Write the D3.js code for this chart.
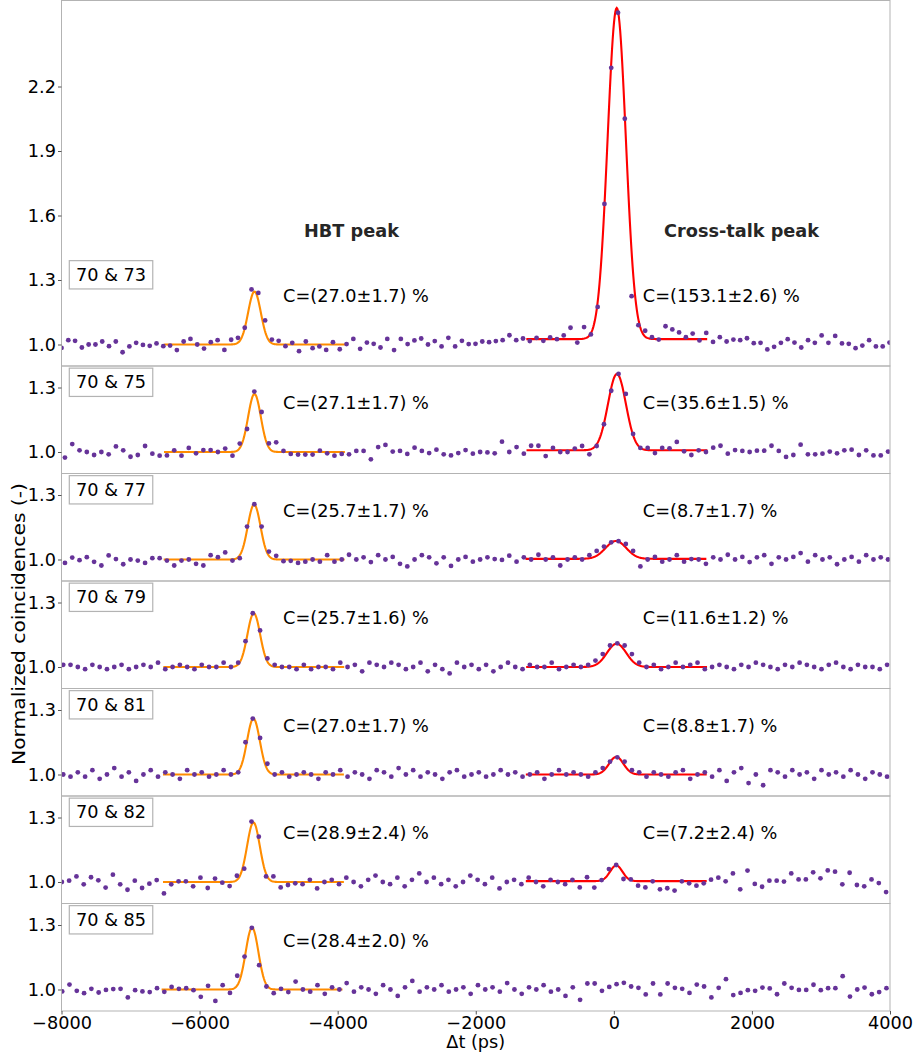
<!DOCTYPE html>
<html>
<head>
<meta charset="utf-8">
<script src="https://d3js.org/d3.v7.min.js"></script>
<style>
  body { margin: 0; background: #fff; }
  svg { display: block; font-family: "DejaVu Sans", sans-serif; }
</style>
</head>
<body>
<svg id="chart" width="916" height="1055"></svg>
<script>
// ---- data ----
const pairLabels = ["70 & 73", "70 & 75", "70 & 77", "70 & 79", "70 & 81", "70 & 82", "70 & 85"];
const hbtText = ["C=(27.0±1.7) %", "C=(27.1±1.7) %", "C=(25.7±1.7) %", "C=(25.7±1.6) %", "C=(27.0±1.7) %", "C=(28.9±2.4) %", "C=(28.4±2.0) %"];
const ctText = ["C=(153.1±2.6) %", "C=(35.6±1.5) %", "C=(8.7±1.7) %", "C=(11.6±1.2) %", "C=(8.8±1.7) %", "C=(7.2±2.4) %", null];

// first bin and bin width (ps) of each histogram
const binStart = [-8000, -7950, -7950, -7975, -7975, -7995, -7990];
const binWidth = [98.3, 105.5, 105.5, 105.6, 105.6, 105.65, 105.65];

const coinc73 = [0.984,1.020,1.017,0.986,1.000,1.000,1.014,0.992,1.014,0.964,0.991,1.008,0.998,0.994,1.005,0.992,0.995,0.974,1.014,1.026,
  1.000,0.981,1.011,1.020,0.975,1.022,1.031,1.078,1.256,1.240,1.112,1.023,1.017,0.992,1.008,0.969,1.014,0.983,0.991,0.975,
  1.011,0.978,1.002,1.026,0.980,1.009,1.003,0.986,1.026,0.974,1.026,1.002,1.019,1.028,1.000,1.016,0.991,1.031,0.991,1.017,
  1.002,1.003,1.014,1.011,1.016,1.020,1.043,1.020,1.028,1.016,1.031,1.017,1.033,1.025,1.042,1.078,1.009,1.081,1.047,1.175,
  1.654,2.287,2.543,2.050,1.225,1.090,1.064,1.034,1.023,1.085,1.070,1.056,1.034,1.051,1.019,1.054,1.012,1.034,1.014,1.023,
  1.020,1.029,1.006,1.008,0.977,0.989,1.008,1.025,1.009,0.986,1.020,1.008,1.042,1.008,1.040,1.005,1.003,0.983,0.995,1.020,
  0.991,0.991,1.009];
const coinc75 = [0.974,1.037,1.008,1.000,0.986,1.000,0.989,1.026,1.008,0.978,0.986,1.028,0.992,0.983,0.984,1.008,0.983,1.019,0.994,1.009,
  1.009,1.000,1.016,0.983,1.039,1.107,1.281,1.186,1.040,1.045,1.005,0.991,0.988,0.988,0.988,1.006,0.994,0.983,0.991,0.989,
  1.005,1.005,0.966,1.023,1.033,1.002,1.005,0.991,1.020,1.005,0.995,1.011,0.989,0.984,0.995,1.009,0.992,1.000,0.998,0.994,
  1.048,1.000,1.023,0.992,1.029,1.029,0.981,1.019,1.000,1.000,1.016,1.028,0.989,1.028,1.129,1.285,1.363,1.270,1.084,1.019,
  1.019,0.995,1.019,1.017,1.047,1.003,0.986,1.008,1.000,1.020,1.029,0.992,1.009,1.005,1.000,1.006,1.006,1.029,1.005,0.977,
  0.986,1.034,0.989,0.989,0.992,1.002,0.994,1.008,1.011,0.986,1.008,0.984,0.984,1.002];
const coinc77 = [0.984,1.009,0.997,1.011,0.989,0.972,1.019,1.002,0.978,1.000,0.995,0.984,1.006,1.006,0.995,0.972,0.995,1.000,0.980,0.972,
  1.020,1.011,1.033,0.995,1.006,1.153,1.257,1.153,1.037,1.017,0.992,0.994,0.984,0.990,1.000,0.990,1.020,0.990,1.000,1.022,
  1.000,1.010,0.988,1.020,1.000,1.012,0.980,0.968,1.000,1.020,1.010,0.982,1.010,0.970,1.000,1.012,0.990,1.000,1.010,1.002,
  0.998,1.018,0.990,1.010,1.000,1.022,1.000,1.010,0.972,1.000,1.010,1.000,1.020,1.040,1.060,1.080,1.085,1.072,1.040,0.968,
  1.000,1.012,0.990,1.000,1.020,0.990,1.002,1.000,0.980,1.010,1.000,1.022,1.000,1.012,0.988,1.010,1.020,0.980,1.010,1.000,
  1.012,1.030,0.990,1.020,1.000,1.010,0.978,1.000,1.012,0.990,1.020,1.000,1.010,1.000];
const coinc79 = [1.01,1.01,1.00,0.99,1.01,1.00,0.99,1.00,1.01,0.99,1.00,1.01,1.00,1.02,0.99,1.00,1.01,1.00,0.99,1.01,
  1.00,1.00,1.02,1.00,1.02,1.12,1.25,1.17,1.04,1.01,1.00,1.00,0.99,1.01,0.99,1.00,1.00,0.99,1.02,1.00,
  1.01,0.98,1.02,1.01,1.00,1.02,1.01,0.99,1.00,1.02,0.98,1.01,0.99,0.97,1.02,1.00,1.01,0.99,1.01,0.98,
  1.00,1.02,1.00,0.99,1.01,1.00,1.00,1.02,0.99,1.00,1.01,1.00,1.01,1.03,1.06,1.10,1.11,1.10,1.06,1.02,
  1.00,1.01,0.99,1.00,1.02,1.00,1.01,1.02,0.99,1.00,1.01,1.00,0.99,1.01,1.00,1.02,1.01,1.00,0.99,1.01,
  1.00,1.02,1.01,1.00,0.99,1.01,1.02,1.00,0.99,1.01,1.00,1.00,0.99,1.01];
const coinc81 = [1.00,0.99,1.01,0.99,1.02,0.98,1.00,1.03,0.99,1.01,0.97,1.00,1.02,0.99,1.01,1.00,0.98,1.02,1.00,1.01,
  0.99,1.00,1.02,1.00,1.01,1.15,1.26,1.17,1.05,1.00,1.01,0.99,1.00,1.01,1.00,0.98,1.01,1.00,1.02,0.99,
  1.01,1.00,0.98,1.02,1.01,0.99,1.03,1.00,1.02,0.99,1.01,1.00,0.98,1.01,1.02,0.99,1.00,1.01,0.99,1.00,
  1.02,1.00,1.01,0.99,1.00,1.01,0.98,1.00,1.02,1.00,1.01,1.00,0.99,1.01,1.03,1.06,1.08,1.06,1.02,1.01,
  0.99,1.01,1.00,0.99,1.01,1.02,0.98,1.00,1.01,0.99,1.02,0.97,1.01,1.03,0.96,1.00,0.95,1.02,1.01,0.99,
  1.02,1.00,1.01,0.98,1.02,1.00,1.01,0.99,1.02,1.00,0.98,1.01,1.00,0.99];
const coinc82 = [1.000,1.006,1.026,0.989,1.022,1.008,0.974,1.034,0.989,0.964,1.006,0.972,0.992,1.009,0.947,0.989,1.003,1.003,0.980,1.020,
  0.972,1.016,0.997,0.981,1.029,1.062,1.281,1.211,1.026,1.026,0.975,0.986,0.994,0.99,1.01,0.97,1.00,1.01,0.99,1.02,
  1.00,0.98,1.01,1.03,1.00,0.99,1.02,0.98,1.01,1.04,1.00,1.02,0.99,1.01,0.98,1.00,1.03,1.01,0.99,1.02,
  0.97,1.00,1.01,0.99,1.02,1.00,0.98,1.01,1.00,0.99,1.01,0.975,1.022,0.974,1.009,1.060,1.079,1.014,1.012,0.983,
  0.975,1.003,0.966,0.971,0.960,1.003,0.994,0.983,0.994,1.011,1.020,1.003,1.040,0.966,1.053,0.991,0.978,1.006,1.006,1.002,
  1.040,1.012,1.012,1.045,1.017,1.054,1.048,0.989,1.043,0.986,0.980,1.012,0.995,0.953];
const coinc85 = [0.991,1.023,0.994,0.983,1.003,0.986,0.998,1.002,1.003,0.963,0.997,0.991,0.988,1.006,0.989,1.012,1.003,1.006,0.997,0.966,
  1.017,0.947,1.020,0.984,1.064,1.153,1.287,1.113,1.014,0.983,1.003,0.988,1.037,1.00,0.99,1.02,0.98,1.01,1.00,1.03,
  0.99,1.01,1.00,0.98,1.02,1.00,0.97,1.01,1.04,0.99,1.01,1.00,1.02,0.99,1.00,1.01,0.98,1.02,1.00,1.01,
  0.99,1.03,1.00,0.98,1.01,1.00,1.02,0.99,1.00,0.97,1.01,0.952,1.028,1.028,0.994,1.012,1.025,1.031,1.014,1.008,
  0.977,1.028,0.977,1.028,1.008,1.003,0.984,1.023,1.014,0.963,1.008,1.048,0.974,0.984,0.997,0.994,1.009,1.005,0.978,1.028,
  1.008,0.998,0.998,1.022,0.997,1.006,1.006,1.062,0.967,1.000,1.009,0.978,0.988,1.006];
const series = [coinc73, coinc75, coinc77, coinc79, coinc81, coinc82, coinc85];

// gaussian fit parameters (HBT peak / cross-talk peak)
const hbtMu = [-5205, -5205, -5210, -5215, -5220, -5220, -5240];
const hbtSigma = [92, 92, 92, 92, 92, 92, 92];
const hbtAmp = [0.246, 0.270, 0.256, 0.250, 0.260, 0.277, 0.288];
const ctMu = [42, 45, 30, 40, 35, 35, null];
const ctSigma = [132, 130, 150, 140, 105, 90, null];
const ctAmp = [1.54, 0.355, 0.083, 0.108, 0.082, 0.073, null];
const ctBase = [1.025, 1.008, 1.003, 1.0, 1.0, 1.004, null];
const fitHalfWidth = 1310;

const yTop = [2.6, 1.4, 1.4, 1.4, 1.4, 1.4, 1.4];
const yTicks = [[1.0, 1.3, 1.6, 1.9, 2.2], [1.0, 1.3], [1.0, 1.3], [1.0, 1.3], [1.0, 1.3], [1.0, 1.3], [1.0, 1.3]];
const xTicks = [-8000, -6000, -4000, -2000, 0, 2000, 4000];

// ---- layout ----
const svg = d3.select("#chart");
const left = 61.5, right = 890, top0 = 0.5;
const yMin = 0.9, pxPerUnit = 215;
const spine = "#b3b3b3";
const fs = "17.7px";

const x = d3.scaleLinear().domain([-8000, 4000]).range([left, right]);

let yPos = top0;
const panels = yTop.map((t, i) => {
  const h = (t - yMin) * pxPerUnit;
  const p = { top: yPos, h: h, y: d3.scaleLinear().domain([yMin, t]).range([yPos + h, yPos]) };
  yPos += h;
  return p;
});

function gauss(base, amp, mu, sig) {
  return v => base + amp * Math.exp(-((v - mu) * (v - mu)) / (2 * sig * sig));
}

panels.forEach((p, i) => {
  const g = svg.append("g");
  const clipId = "clip" + i;
  svg.append("clipPath").attr("id", clipId)
    .append("rect").attr("x", left).attr("y", p.top).attr("width", right - left).attr("height", p.h);

  const plot = g.append("g").attr("clip-path", `url(#${clipId})`);

  // fitted curves
  const line = d3.line().x(d => x(d[0])).y(d => p.y(d[1]));
  const hf = gauss(1.0, hbtAmp[i], hbtMu[i], hbtSigma[i]);
  const hx = d3.range(hbtMu[i] - fitHalfWidth, hbtMu[i] + fitHalfWidth + 1, 10);
  plot.append("path").datum(hx.map(v => [v, hf(v)]))
    .attr("d", line).attr("fill", "none").attr("stroke", "#ff8c00").attr("stroke-width", 2.1);

  if (ctMu[i] !== null) {
    const cf = gauss(ctBase[i], ctAmp[i], ctMu[i], ctSigma[i]);
    const cx = d3.range(ctMu[i] - fitHalfWidth, ctMu[i] + fitHalfWidth + 1, 10);
    plot.append("path").datum(cx.map(v => [v, cf(v)]))
      .attr("d", line).attr("fill", "none").attr("stroke", "#ff0000").attr("stroke-width", 2.1);
  }

  // measured points
  plot.selectAll("circle").data(series[i]).enter().append("circle")
    .attr("cx", (d, k) => x(binStart[i] + k * binWidth[i]))
    .attr("cy", d => p.y(d))
    .attr("r", 2.4)
    .attr("fill", "#663399");

  // frame
  g.append("rect").attr("x", left).attr("y", p.top).attr("width", right - left).attr("height", p.h)
    .attr("fill", "none").attr("stroke", spine).attr("stroke-width", 1);

  // y axis
  const ya = g.append("g").attr("transform", `translate(${left},0)`)
    .call(d3.axisLeft(p.y).tickValues(yTicks[i]).tickFormat(d3.format(".1f")).tickSize(3.5).tickPadding(2));
  ya.attr("font-family", null).attr("font-size", null);
  ya.select(".domain").remove();
  ya.selectAll(".tick line").attr("stroke", "#555");
  ya.selectAll(".tick text").attr("font-size", fs).attr("fill", "#000");

  // pair label with box
  const lx = left + 14.5;
  const lbl = g.append("text").attr("x", lx).attr("y", p.y(1.297))
    .attr("font-size", fs).attr("fill", "#000").text(pairLabels[i]);
  const bw = lbl.node().getComputedTextLength();
  g.insert("rect", () => lbl.node()).attr("x", lx - 6.7).attr("y", p.y(1.297) - 20)
    .attr("width", bw + 13.4).attr("height", 28.3)
    .attr("fill", "#fff").attr("stroke", "#b3b3b3").attr("stroke-width", 1.2);

  // contrast texts
  g.append("text").attr("x", x(-4790)).attr("y", p.y(1.2))
    .attr("font-size", fs).attr("fill", "#000").text(hbtText[i]);
  if (ctText[i]) {
    g.append("text").attr("x", x(420)).attr("y", p.y(1.2))
      .attr("font-size", fs).attr("fill", "#000").text(ctText[i]);
  }

  if (i === 0) {
    g.append("text").attr("x", x(-3800)).attr("y", p.y(1.5)).attr("text-anchor", "middle")
      .attr("font-size", fs).attr("font-weight", "bold").attr("fill", "#262626").text("HBT peak");
    g.append("text").attr("x", x(1850)).attr("y", p.y(1.5)).attr("text-anchor", "middle")
      .attr("font-size", fs).attr("font-weight", "bold").attr("fill", "#262626").text("Cross-talk peak");
  }
});

// bottom x axis
const last = panels[panels.length - 1];
const xa = svg.append("g").attr("transform", `translate(0,${last.top + last.h})`)
  .call(d3.axisBottom(x).tickValues(xTicks).tickFormat(d => d3.format("d")(d).replace("-", "\u2212")).tickSize(3.5).tickPadding(2));
xa.attr("font-family", null).attr("font-size", null);
xa.select(".domain").remove();
xa.selectAll(".tick line").attr("stroke", "#555");
xa.selectAll(".tick text").attr("font-size", fs).attr("fill", "#000");

svg.append("text").attr("x", (left + right) / 2).attr("y", 1047.5)
  .attr("text-anchor", "middle").attr("font-size", fs).text("\u0394t (ps)");

svg.append("text").attr("transform", "translate(25,624) rotate(-90)")
  .attr("text-anchor", "middle").attr("font-size", fs)
  .attr("textLength", 282).attr("lengthAdjust", "spacingAndGlyphs")
  .text("Normalized coincidences (-)");
</script>
</body>
</html>
